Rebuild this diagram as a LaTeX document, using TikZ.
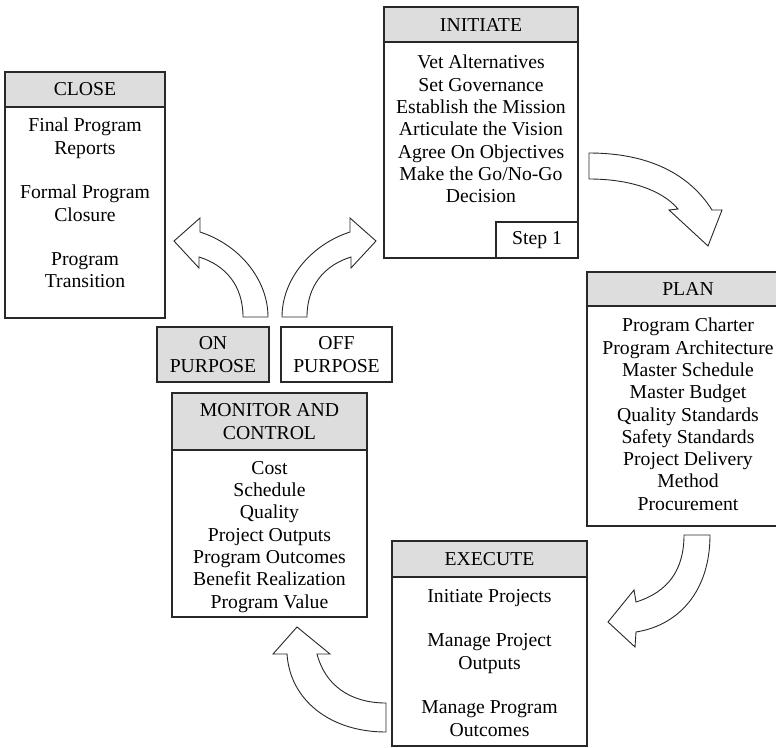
\documentclass[tikz,border=0pt]{standalone}
\usepackage{fontspec}
\setmainfont{Liberation Serif}
\definecolor{hdr}{RGB}{221,221,221}
\definecolor{ink}{RGB}{40,40,40}
\newcommand\phasefont{\fontsize{19.7}{22.3}\selectfont}

\begin{document}
\begin{tikzpicture}[x=1pt,y=-1pt,
  panel/.style={draw=ink, line width=1.2pt, fill=white, inner sep=0pt,
                outer sep=0pt, anchor=north west, font=\phasefont, align=center},
  caption/.style={panel, fill=hdr},
  blurb/.style={align=center, anchor=north, inner sep=0pt, font=\phasefont},
  bigarrow/.style={draw=ink, line width=0.9pt, fill=white, line join=miter}]

\useasboundingbox (0,0) rectangle (776,747);
\clip (0,0) rectangle (776,747);

% ---- CLOSE ----
\node[panel, minimum width=160pt, minimum height=246pt] (close) at (5,72) {};
\node[caption, minimum width=160pt, minimum height=35pt] (closeHead) at (5,72) {CLOSE};
\node[blurb] (closeText) at (85,118)
  {Final Program\\Reports\\[22.3pt]Formal Program\\Closure\\[22.3pt]Program\\Transition};

% ---- INITIATE ----
\node[panel, minimum width=194pt, minimum height=251pt] (initiate) at (384,7) {};
\node[caption, minimum width=194pt, minimum height=35pt] (initiateHead) at (384,7) {INITIATE};
\node[blurb] (initiateText) at (481,55)
  {Vet Alternatives\\Set Governance\\Establish the Mission\\Articulate the Vision\\
   Agree On Objectives\\Make the Go/No-Go\\Decision};
\node[panel, anchor=south east, minimum width=82pt, minimum height=36pt] (step)
  at (initiate.south east) {Step 1};

% ---- PLAN ----
\node[panel, minimum width=202pt, minimum height=254pt] (plan) at (587,272) {};
\node[caption, minimum width=202pt, minimum height=34pt] (planHead) at (587,272) {PLAN};
\node[blurb] (planText) at (688,318)
  {Program Charter\\Program Architecture\\Master Schedule\\Master Budget\\
   Quality Standards\\Safety Standards\\Project Delivery\\Method\\Procurement};

% ---- EXECUTE ----
\node[panel, minimum width=195pt, minimum height=205pt] (execute) at (392,541) {};
\node[caption, minimum width=195pt, minimum height=36pt] (executeHead) at (392,541) {EXECUTE};
\node[blurb] (executeText) at (489.5,589)
  {Initiate Projects\\[22.3pt]Manage Project\\Outputs\\[22.3pt]Manage Program\\Outcomes};

% ---- MONITOR AND CONTROL ----
\node[panel, minimum width=195pt, minimum height=224pt] (monitor) at (172,393) {};
\node[caption, minimum width=195pt, minimum height=57pt] (monitorHead) at (172,393)
  {MONITOR AND\\CONTROL};
\node[blurb] (monitorText) at (269.5,461)
  {Cost\\Schedule\\Quality\\Project Outputs\\Program Outcomes\\Benefit Realization\\Program Value};

% ---- decision boxes ----
\node[caption, minimum width=112pt, minimum height=55pt] (onPurpose) at (157,327) {ON\\PURPOSE};
\node[panel, minimum width=111pt, minimum height=55pt] (offPurpose) at (281,327) {OFF\\PURPOSE};

% ---- block arrows ----
% on purpose -> close
\draw[bigarrow] (268,317) .. controls (268,280) and (240,245) .. (200,232)
  -- (200,218) -- (174,241) -- (199,268) -- (199,257)
  .. controls (225,265) and (243,285) .. (243,317) -- cycle;
% off purpose -> initiate
\draw[bigarrow] (282,317) .. controls (282,280) and (310,245) .. (350,232)
  -- (350,218) -- (376,241) -- (351,268) -- (351,257)
  .. controls (325,265) and (307,285) .. (307,317) -- cycle;
% initiate -> plan
\draw[bigarrow] (589,153) .. controls (650,153) and (690,175) .. (712,210)
  -- (722,210) -- (708,246) -- (669,210) -- (678,209)
  .. controls (662,190) and (630,179) .. (589,179) -- cycle;
% plan -> execute
\draw[bigarrow] (684,535) -- (710,535) .. controls (710,590) and (680,625) .. (636,632)
  -- (635,647) -- (608,622) -- (634,590) -- (636,602)
  .. controls (668,592) and (684,570) .. (684,535) -- cycle;
% execute -> monitor and control
\draw[bigarrow] (386,703) -- (386,732) .. controls (330,732) and (290,700) .. (287,654)
  -- (273,654) -- (297,627) -- (330,654) -- (317,654)
  .. controls (325,685) and (350,703) .. (386,703) -- cycle;

\end{tikzpicture}
\end{document}
